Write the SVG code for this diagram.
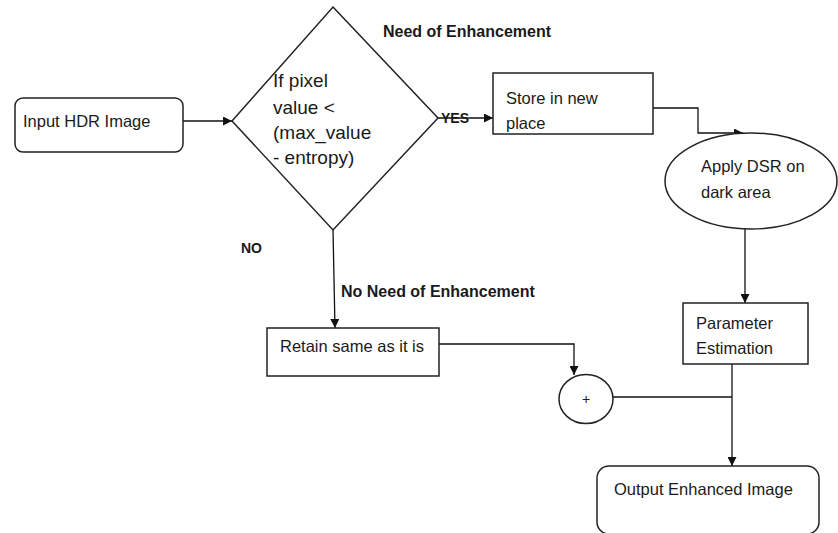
<svg xmlns="http://www.w3.org/2000/svg" width="838" height="533" viewBox="0 0 838 533">
<style>
.shape{fill:#fff;stroke:#222;stroke-width:1.5}
.conn{fill:none;stroke:#111;stroke-width:1.3}
text{font-family:"Liberation Sans",Arial,sans-serif;font-size:16.5px;fill:#1a1a1a}
.lbl{font-weight:bold;font-size:16px}
.dia{font-size:19px}
</style>
<defs>
<marker id="arr" viewBox="0 0 10 10" refX="10" refY="5" markerWidth="9" markerHeight="9" markerUnits="userSpaceOnUse" orient="auto">
<path d="M0,0 L10,5 L0,10 z" fill="#111"/>
</marker>
</defs>
<rect width="838" height="533" fill="#fff"/>
<g id="connectors">
<line class="conn" x1="183" y1="121" x2="232" y2="121" marker-end="url(#arr)"/>
<line class="conn" x1="438" y1="118" x2="493" y2="118" marker-end="url(#arr)"/>
<polyline class="conn" points="653,108 698,108 698,133 743,133" marker-end="url(#arr)"/>
<line class="conn" x1="745" y1="229" x2="745" y2="303" marker-end="url(#arr)"/>
<line class="conn" x1="333" y1="230" x2="335" y2="328" marker-end="url(#arr)"/>
<polyline class="conn" points="439,344 574,344 574,375" marker-end="url(#arr)"/>
<line class="conn" x1="732" y1="364" x2="732" y2="466" marker-end="url(#arr)"/>
<line class="conn" x1="613" y1="397" x2="732" y2="397"/>
<text class="lbl" x="441" y="123" style="font-size:14px">YES</text>
<text class="lbl" x="241" y="253" style="font-size:14px">NO</text>
<text class="lbl" x="341" y="297">No Need of Enhancement</text>
<text class="lbl" x="383" y="37">Need of Enhancement</text>
</g>
<g id="input">
<rect class="shape" x="15" y="98" width="168" height="54" rx="8"/>
<text x="23" y="127">Input HDR Image</text>
</g>
<g id="decision">
<polygon class="shape" points="333,7 438,118 333,230 232,121"/>
<text class="dia" x="273" y="87">If pixel</text>
<text class="dia" x="273" y="114">value &lt;</text>
<text class="dia" x="273" y="139">(max_value</text>
<text class="dia" x="273" y="164">- entropy)</text>
</g>
<g id="store">
<rect class="shape" x="493" y="73" width="160" height="61"/>
<text x="506" y="104">Store in new</text>
<text x="506" y="129">place</text>
</g>
<g id="dsr">
<ellipse class="shape" cx="751" cy="181" rx="86" ry="48"/>
<text x="701" y="172">Apply DSR on</text>
<text x="701" y="198">dark area</text>
</g>
<g id="param">
<rect class="shape" x="683" y="303" width="125" height="61"/>
<text x="696" y="329">Parameter</text>
<text x="696" y="354">Estimation</text>
</g>
<g id="retain">
<rect class="shape" x="267" y="328" width="172" height="48"/>
<text x="280" y="352">Retain same as it is</text>
</g>
<g id="sum">
<ellipse class="shape" cx="586" cy="399" rx="27" ry="24.5"/>
<text x="586" y="404" text-anchor="middle" style="font-size:14px">+</text>
</g>
<g id="output">
<rect class="shape" x="597" y="466" width="222" height="68" rx="12"/>
<text x="614" y="495">Output Enhanced Image</text>
</g>
</svg>
